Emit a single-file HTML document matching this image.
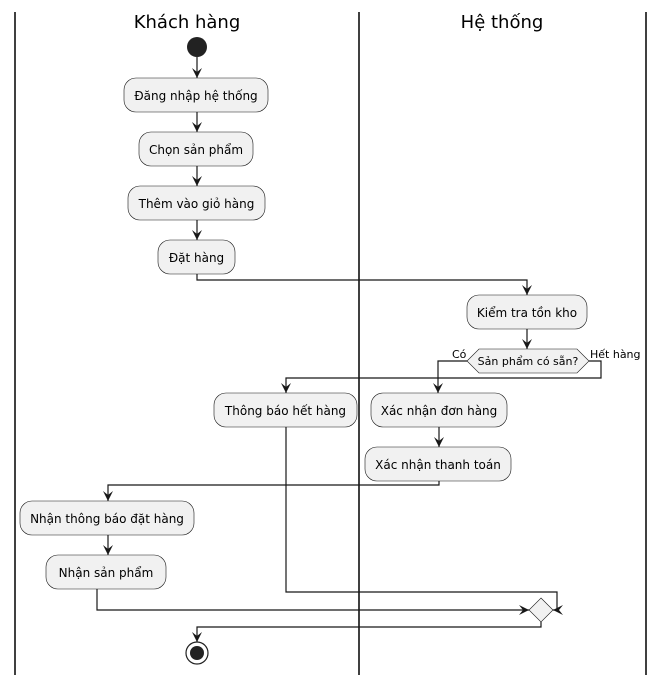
<!DOCTYPE html>
<html><head><meta charset="utf-8"><style>
html,body{margin:0;padding:0;background:#fff;}
svg{display:block;}
text{font-family:"DejaVu Sans","Liberation Sans",sans-serif;font-size:12px;fill:#000;}
</style></head><body>
<svg width="664" height="675" viewBox="0 0 664 675" xmlns="http://www.w3.org/2000/svg">
<defs>
<marker id="a" viewBox="0 0 12 12" refX="10" refY="6" markerWidth="12" markerHeight="12" markerUnits="userSpaceOnUse" orient="auto">
<path d="M0,1 L10,6 L0,11 L4,6 Z" fill="#181818"/></marker>
</defs>
<g stroke="#000" stroke-width="1.5">
<line x1="15" y1="12" x2="15" y2="675"/>
<line x1="359" y1="12" x2="359" y2="675"/>
<line x1="646" y1="12" x2="646" y2="675"/>
</g>
<text x="187" y="28" text-anchor="middle" style="font-size:18px">Khách hàng</text>
<text x="502" y="28" text-anchor="middle" style="font-size:18px">Hệ thống</text>
<circle cx="197" cy="47" r="10" fill="#222"/>
<g fill="none" stroke="#181818" stroke-width="1.2" marker-end="url(#a)">
<path d="M197,57 V78"/>
<path d="M197,112 V132"/>
<path d="M197,166 V186"/>
<path d="M197,220 V240"/>
<path d="M197,274 V280 H527 V295"/>
<path d="M527,329 V349"/>
<path d="M467,361 H438 V393"/>
<path d="M589,361 H601 V378 H286 V393"/>
<path d="M439,427 V447"/>
<path d="M439,481 V485 H108 V501"/>
<path d="M108,535 V555"/>
<path d="M286,427 V592 H557 V610 H553"/>
<path d="M97,589 V610 H529"/>
<path d="M541,622 V627 H197 V642"/>
</g>
<g fill="#f1f1f1" stroke="#181818" stroke-width="0.6">
<rect x="124" y="78" width="144" height="34" rx="12"/>
<rect x="139" y="132" width="114" height="34" rx="12"/>
<rect x="128" y="186" width="137" height="34" rx="12"/>
<rect x="158" y="240" width="77" height="34" rx="12"/>
<rect x="467" y="295" width="120" height="34" rx="12"/>
<polygon points="467,361 479,349 577,349 589,361 577,373 479,373"/>
<rect x="214" y="393" width="143" height="34" rx="12"/>
<rect x="371" y="393" width="136" height="34" rx="12"/>
<rect x="365" y="447" width="146" height="34" rx="12"/>
<rect x="20" y="501" width="174" height="34" rx="12"/>
<rect x="46" y="555" width="120" height="34" rx="12"/>
<polygon points="541,598 553,610 541,622 529,610"/>
</g>
<g text-anchor="middle">
<text x="196" y="100">Đăng nhập hệ thống</text>
<text x="196" y="154">Chọn sản phẩm</text>
<text x="196.5" y="208">Thêm vào giỏ hàng</text>
<text x="196.5" y="262">Đặt hàng</text>
<text x="527" y="317">Kiểm tra tồn kho</text>
<text x="528" y="365" style="font-size:11px">Sản phẩm có sẵn?</text>
<text x="285.5" y="415">Thông báo hết hàng</text>
<text x="439" y="415">Xác nhận đơn hàng</text>
<text x="438" y="469">Xác nhận thanh toán</text>
<text x="107" y="523">Nhận thông báo đặt hàng</text>
<text x="106" y="577">Nhận sản phẩm</text>
</g>
<text x="452" y="358" style="font-size:11px">Có</text>
<text x="590" y="358" style="font-size:11px">Hết hàng</text>
<circle cx="197" cy="653" r="11" fill="none" stroke="#222" stroke-width="1.2"/>
<circle cx="197" cy="653" r="7" fill="#222"/>
</svg>
</body></html>
